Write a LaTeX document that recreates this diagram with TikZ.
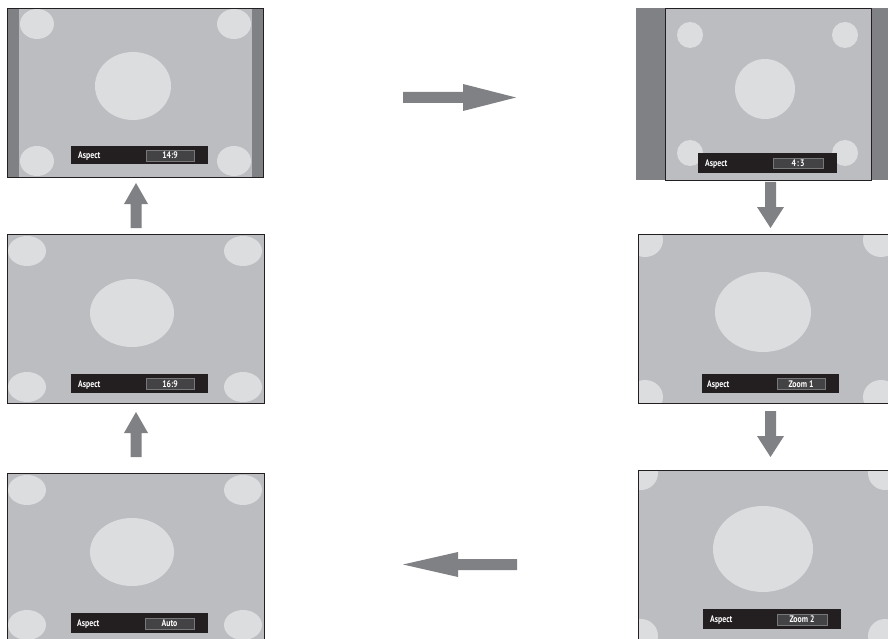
\documentclass[tikz,border=0pt]{standalone}
\usepackage{fontspec}
\newfontfamily\osdfont[FakeStretch=0.82]{PT Sans Bold}
\definecolor{scrn}{HTML}{BCBDC0}
\definecolor{blob}{HTML}{DCDDDF}
\definecolor{sidebar}{HTML}{808184}
\definecolor{osdbg}{HTML}{231F20}
\definecolor{valbg}{HTML}{434345}
\definecolor{valedge}{HTML}{77787A}
\definecolor{arrowc}{HTML}{808184}
\tikzset{
  screenfill/.style={fill=scrn},
  blobfill/.style={fill=blob},
  barfill/.style={fill=sidebar},
  frameline/.style={draw=osdbg, line width=0.8pt},
  osdbar/.style={fill=osdbg},
  valbox/.style={fill=valbg, draw=valedge, line width=0.5pt},
  osdtext/.style={text=white, font=\osdfont\fontsize{9.5}{10}\selectfont, inner sep=0pt},
  blockarrow/.style={fill=arrowc}
}
\begin{document}
\begin{tikzpicture}[x=1pt,y=-1pt]
\useasboundingbox (0,0) rectangle (888,639);

% ---------- Screen 1 : 14:9 ----------
\begin{scope}
\clip (7.5,8) rectangle (263,177);
\fill[screenfill] (7.5,8) rectangle (263,177);
\fill[barfill] (7.5,8) rectangle (19,177);
\fill[barfill] (252,8) rectangle (263,177);
\fill[blobfill] (37,24) ellipse (17 and 15);
\fill[blobfill] (234,24) ellipse (17 and 15);
\fill[blobfill] (37,161) ellipse (17 and 15);
\fill[blobfill] (234,161) ellipse (17 and 15);
\fill[blobfill] (133,86) ellipse (38 and 34);
\end{scope}
\draw[frameline] (7.5,8) rectangle (263,177);
\fill[osdbar] (71,146) rectangle (208,164);
\draw[valbox] (146,150) rectangle (194,161);
\node[osdtext, anchor=base west] (a1) at (78,158.5) {Aspect};
\node[osdtext, anchor=base] (v1) at (170,158.5) {14:9};

% ---------- Screen 6 : 16:9 ----------
\begin{scope}
\clip (7.5,234) rectangle (264,403);
\fill[screenfill] (7.5,234) rectangle (264,403);
\fill[blobfill] (27,251) ellipse (19 and 15);
\fill[blobfill] (243,251) ellipse (19 and 15);
\fill[blobfill] (27,387) ellipse (19 and 15);
\fill[blobfill] (243,387) ellipse (19 and 15);
\fill[blobfill] (132,313) ellipse (42 and 34);
\end{scope}
\draw[frameline] (7.5,234) rectangle (264,403);
\fill[osdbar] (71,374) rectangle (208,393);
\draw[valbox] (146,378) rectangle (194,389);
\node[osdtext, anchor=base west] (a6) at (78,387) {Aspect};
\node[osdtext, anchor=base] (v6) at (170,387) {16:9};

% ---------- Screen 5 : Auto ----------
\begin{scope}
\clip (7.5,473) rectangle (264,645);
\fill[screenfill] (7.5,473) rectangle (264,645);
\fill[blobfill] (27,490) ellipse (19 and 15);
\fill[blobfill] (243,490) ellipse (19 and 15);
\fill[blobfill] (27,625) ellipse (19 and 15);
\fill[blobfill] (243,625) ellipse (19 and 15);
\fill[blobfill] (132,552) ellipse (42 and 34);
\end{scope}
\draw[frameline] (7.5,473) rectangle (264,645);
\fill[osdbar] (71,613) rectangle (208,633);
\draw[valbox] (145,618) rectangle (194,629);
\node[osdtext, anchor=base west] (a5) at (77,626.5) {Aspect};
\node[osdtext, anchor=base] (v5) at (169.5,626.5) {Auto};

% ---------- Screen 2 : 4:3 ----------
\fill[barfill] (636,8) rectangle (890,180);
\begin{scope}
\clip (665,8) rectangle (871,180);
\fill[screenfill] (665,8) rectangle (871,180);
\fill[blobfill] (690,35) circle (13);
\fill[blobfill] (845,35) circle (13);
\fill[blobfill] (690,153) circle (13);
\fill[blobfill] (845,153) circle (13);
\fill[blobfill] (765,89) circle (30);
\end{scope}
\draw[frameline] (665,8) rectangle (871,180);
\fill[osdbar] (698,153) rectangle (837,173);
\draw[valbox] (773,158) rectangle (823,168);
\node[osdtext, anchor=base west] (a2) at (705,166.5) {Aspect};
\node[osdtext, anchor=base] (v2) at (798,166.5) {4\kern1pt:\kern1pt3};

% ---------- Screen 3 : Zoom 1 ----------
\begin{scope}
\clip (638,234) rectangle (888,403);
\fill[screenfill] (638,234) rectangle (888,403);
\fill[blobfill] (645,240) ellipse (18 and 17);
\fill[blobfill] (881,240) ellipse (18 and 17);
\fill[blobfill] (645,397) ellipse (18 and 17);
\fill[blobfill] (881,397) ellipse (18 and 17);
\fill[blobfill] (763,312) ellipse (48 and 40);
\end{scope}
\draw[frameline] (638,234) rectangle (888,403);
\fill[osdbar] (702,374) rectangle (839,393);
\draw[valbox] (777,378) rectangle (825,389);
\node[osdtext, anchor=base west] (a3) at (707,387) {Aspect};
\node[osdtext, anchor=base] (v3) at (801,387) {Zoom 1};

% ---------- Screen 4 : Zoom 2 ----------
\begin{scope}
\clip (638,470) rectangle (888,645);
\fill[screenfill] (638,470) rectangle (888,645);
\fill[blobfill] (641,473) circle (17);
\fill[blobfill] (885,473) circle (17);
\fill[blobfill] (641,636) circle (17);
\fill[blobfill] (885,636) circle (17);
\fill[blobfill] (763,549) ellipse (50 and 43);
\end{scope}
\draw[frameline] (638,470) rectangle (888,645);
\fill[osdbar] (703,609) rectangle (841,629);
\draw[valbox] (777,614) rectangle (827,625);
\node[osdtext, anchor=base west] (a4) at (710,622.5) {Aspect};
\node[osdtext, anchor=base] (v4) at (802,622.5) {Zoom 2};

% ---------- Block arrows ----------
% right
\fill[blockarrow] (403,92) -- (463,92) -- (463,84) -- (516,97.5) -- (463,111) -- (463,103) -- (403,103) -- cycle;
% left
\fill[blockarrow] (517,559) -- (458,559) -- (458,552) -- (403,564.5) -- (458,577) -- (458,570) -- (517,570) -- cycle;
% up 1
\fill[blockarrow] (130.5,228) -- (130.5,204) -- (124,204) -- (136,183) -- (148,204) -- (141.5,204) -- (141.5,228) -- cycle;
% up 2
\fill[blockarrow] (130.5,457) -- (130.5,433) -- (124,433) -- (136,412) -- (148,433) -- (141.5,433) -- (141.5,457) -- cycle;
% down 1
\fill[blockarrow] (765,182) -- (776,182) -- (776,207) -- (784,207) -- (770.5,228) -- (757,207) -- (765,207) -- cycle;
% down 2
\fill[blockarrow] (765,411) -- (776,411) -- (776,436) -- (784,436) -- (770.5,457) -- (757,436) -- (765,436) -- cycle;
\end{tikzpicture}
\end{document}
